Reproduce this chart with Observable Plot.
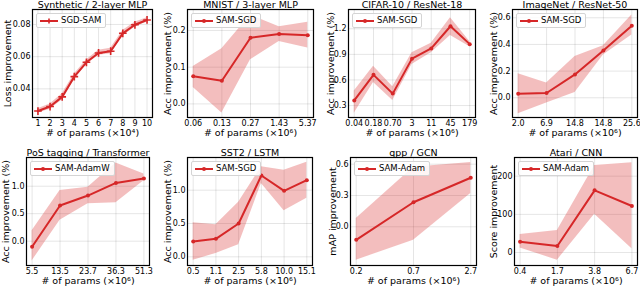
<!DOCTYPE html>
<html><head><meta charset="utf-8">
<script src="https://cdn.jsdelivr.net/npm/d3@7"></script>
<script src="https://cdn.jsdelivr.net/npm/@observablehq/plot@0.6"></script>
<style>
body{margin:0;background:#fff;}
#fig{position:relative;width:640px;height:286px;font-family:"DejaVu Sans";overflow:hidden;}
.panel{position:absolute;}
.legend{position:absolute;display:flex;align-items:center;border:1px solid #d4d4d4;border-radius:2px;background:rgba(255,255,255,0.85);padding:2px 4px 2px 3px;font-size:8.5px;line-height:9px;color:#000;white-space:nowrap;}
.legend svg{margin-right:3px;}
</style></head><body><div id="fig"></div>
<script>
// ---------- data ----------
const synthTicks = ["1","2","3","4","5","6","7","8","9","10"];
const synthY  = [0.0262,0.0290,0.0350,0.0476,0.0565,0.0623,0.0634,0.0745,0.0798,0.0828];
const synthLo = [0.0250,0.0274,0.0330,0.0460,0.0550,0.0608,0.0618,0.0728,0.0782,0.0815];
const synthHi = [0.0276,0.0306,0.0370,0.0492,0.0580,0.0640,0.0652,0.0762,0.0814,0.0842];

const mnistTicks = ["0.06","0.13","0.27","1.43","5.37"];
const mnistY  = [0.075,0.063,0.180,0.190,0.187];
const mnistLo = [0.045,-0.025,0.120,0.170,0.152];
const mnistHi = [0.102,0.150,0.242,0.210,0.222];

const cifarTicks = ["0.04","0.18","0.70","3","11","45","179"];
const cifarY  = [0.36,0.66,0.44,0.85,0.97,1.23,1.02];
const cifarLo = [0.21,0.57,0.36,0.78,0.92,1.12,0.99];
const cifarHi = [0.47,0.76,0.52,0.92,1.03,1.33,1.05];

const imagenetTicks = ["2.0","6.9","14.8","14.8","25.6"];
const imagenetY  = [0.030,0.036,0.175,0.355,0.540];
const imagenetLo = [-0.120,-0.040,0.040,0.320,0.470];
const imagenetHi = [0.180,0.110,0.310,0.390,0.620];

const posTicks = ["5.5","13.5","23.7","36.3","51.3"];
const posY  = [-0.10,0.65,0.83,1.06,1.14];
const posLo = [-0.36,0.38,0.68,0.70,1.10];
const posHi = [0.19,0.92,0.98,1.42,1.22];

const sstTicks = ["0.5","1.1","2.5","5.8","10.0","15.1"];
const sstY  = [0.23,0.27,0.50,1.22,0.99,1.15];
const sstLo = [-0.05,0.05,0.18,1.10,0.69,0.88];
const sstHi = [0.51,0.48,0.82,1.35,1.30,1.42];

const gppTicks = ["0.2","0.7","2.7"];
const gppY  = [-0.125,0.235,0.470];
const gppLo = [-0.320,-0.130,0.320];
const gppHi = [0.080,0.570,0.615];

const atariTicks = ["0.4","1.7","3.8","6.7"];
const atariY  = [28,17,163,122];
const atariLo = [12,-20,100,10];
const atariHi = [47,58,228,235];

// ---------- layout / config ----------
const red = "#d62728";
const panels = [
  {title:"Synthetic / 2-layer MLP", ylabel:"Loss improvement", xlabel:"# of params (×10⁴)", ticks:synthTicks, y:synthY, lo:synthLo, hi:synthHi,
   yDomain:[0.0222,0.0893], yTicks:[0.04,0.06,0.08], fmt:".2f", legend:"SGD-SAM", marker:"plus", frame:[32,9,152,117], yl:-25},
  {title:"MNIST / 3-layer MLP", ylabel:"Acc improvement (%)", xlabel:"# of params (×10⁶)", ticks:mnistTicks, y:mnistY, lo:mnistLo, hi:mnistHi,
   yDomain:[-0.037,0.257], yTicks:[0,0.1,0.2], fmt:".1f", legend:"SAM-SGD", frame:[187,9,313,117], yl:-20},
  {title:"CIFAR-10 / ResNet-18", ylabel:"Acc improvement (%)", xlabel:"# of params (×10⁶)", ticks:cifarTicks, y:cifarY, lo:cifarLo, hi:cifarHi,
   yDomain:[0.16,1.426], yTicks:[0.3,0.6,0.9,1.2], fmt:".1f", legend:"SAM-SGD", frame:[348,9,475,117], yl:-18},
  {title:"ImageNet / ResNet-50", ylabel:"Acc improvement (%)", xlabel:"# of params (×10⁶)", ticks:imagenetTicks, y:imagenetY, lo:imagenetLo, hi:imagenetHi,
   yDomain:[-0.148,0.662], yTicks:[0,0.2,0.4,0.6], fmt:".1f", legend:"SAM-SGD", frame:[512,9,637,117], yl:-19},
  {title:"PoS tagging / Transformer", ylabel:"Acc improvement (%)", xlabel:"# of params (×10⁶)", ticks:posTicks, y:posY, lo:posLo, hi:posHi,
   yDomain:[-0.442,1.522], yTicks:[0,0.5,1.0], fmt:".1f", legend:"SAM-AdamW", frame:[26,157,149,265], yl:-21},
  {title:"SST2 / LSTM", ylabel:"Acc improvement (%)", xlabel:"# of params (×10⁶)", ticks:sstTicks, y:sstY, lo:sstLo, hi:sstHi,
   yDomain:[-0.13,1.49], yTicks:[0,0.5,1.0], fmt:".1f", legend:"SAM-SGD", frame:[187,157,312,265], yl:-20},
  {title:"qpp / GCN", ylabel:"mAP improvement", xlabel:"# of params (×10⁶)", ticks:gppTicks, y:gppY, lo:gppLo, hi:gppHi,
   yDomain:[-0.371,0.664], yTicks:[0,0.3,0.6], fmt:".1f", legend:"SAM-Adam", frame:[350,157,476,265], yl:-18},
  {title:"Atari / CNN", ylabel:"Score improvement", xlabel:"# of params (×10⁶)", ticks:atariTicks, y:atariY, lo:atariLo, hi:atariHi,
   yDomain:[-34,249], yTicks:[0,100,200], fmt:"d", legend:"SAM-Adam", frame:[514,157,637,265], yl:-21}
];

const fig = document.getElementById("fig");
panels.forEach((p, k) => {
  const col = k % 4, row = Math.floor(k / 4);
  const ox = col * 160, oy = row * 143, W = 160, H = 143;
  const [fx0, fy0, fx1, fy1] = p.frame;
  const n = p.ticks.length;
  const data = p.y.map((v, i) => ({i, y: v, lo: p.lo[i], hi: p.hi[i]}));
  const pad = 0.05 * (n - 1);
  const marks = [
    Plot.areaY(data, {x: "i", y1: "lo", y2: "hi", fill: red, fillOpacity: 0.3}),
    Plot.line(data, {x: "i", y: "y", stroke: red, strokeWidth: 2}),
    p.marker === "plus"
      ? Plot.dot(data, {x: "i", y: "y", symbol: "plus", r: 2.6, stroke: red, strokeWidth: 1.6})
      : Plot.dot(data, {x: "i", y: "y", r: 2, fill: red}),
    Plot.frame({stroke: "#000", strokeWidth: 1.2}),
    Plot.text([p.title], {text: d => d, frameAnchor: "top", dy: -4.5, lineAnchor: "middle", fontSize: 9.5}),
    Plot.text([p.xlabel], {text: d => d, frameAnchor: "bottom", dy: 15.5, lineAnchor: "middle", fontSize: 9.5}),
    Plot.text([p.ylabel], {text: d => d, frameAnchor: "left", rotate: -90, dx: p.yl, textAnchor: "middle", lineAnchor: "middle", fontSize: 9.5})
  ];
  const svg = Plot.plot({
    width: W, height: H,
    marginLeft: fx0 - ox, marginRight: ox + W - fx1,
    marginTop: fy0 - oy, marginBottom: oy + H - fy1,
    style: {fontFamily: "DejaVu Sans", fontSize: "8px", background: "transparent", overflow: "visible", color: "#000"},
    x: {type: "linear", domain: [-pad, n - 1 + pad], ticks: d3.range(n), tickFormat: i => p.ticks[i], tickSize: 0, tickPadding: 3, grid: true, label: null},
    y: {domain: p.yDomain, ticks: p.yTicks, tickFormat: d3.format(p.fmt), tickSize: 0, tickPadding: 2, grid: true, label: null},
    marks
  });
  svg.classList.add("panel");
  svg.style.left = ox + "px";
  svg.style.top = oy + "px";
  fig.appendChild(svg);

  // legend box
  const lg = document.createElement("div");
  lg.className = "legend";
  lg.style.left = (fx0 + 4) + "px";
  lg.style.top = (fy0 + 4) + "px";
  const mk = p.marker === "plus"
    ? `<path d="M9 1.5V6.5M6.5 4H11.5" stroke="${red}" stroke-width="1.6"/>`
    : `<circle cx="9" cy="4" r="2" fill="${red}"/>`;
  lg.innerHTML = `<svg width="18" height="8"><line x1="0" y1="4" x2="18" y2="4" stroke="${red}" stroke-width="2"/>${mk}</svg><span>${p.legend}</span>`;
  fig.appendChild(lg);
});
</script></body></html>
